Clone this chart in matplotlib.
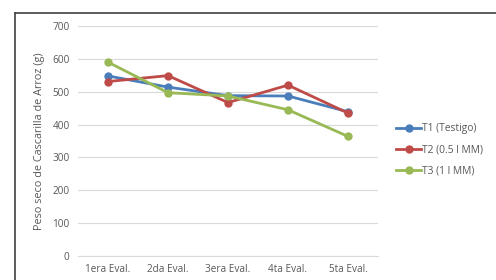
import matplotlib
matplotlib.use("Agg")
import matplotlib.pyplot as plt
from matplotlib.lines import Line2D

# Data
categories = ['1era Eval.', '2da Eval.', '3era Eval.', '4ta Eval.', '5ta Eval.']
t1 = [548, 514, 488, 487, 439]
t2 = [531, 549, 467, 520, 435]
t3 = [590, 497, 487, 445, 364]
series_names = ['T1 (Testigo)', 'T2 (0.5 l MM)', 'T3 (1 l MM)']
colors = ['#4a7ebb', '#be4b48', '#98b954']

plt.rcParams['font.family'] = ['Open Sans', 'DejaVu Sans']

fig = plt.figure(figsize=(4.96, 2.8), dpi=100)
ax = fig.add_axes([78 / 496, 1 - 256 / 280, 300 / 496, 230 / 280])

x = list(range(len(categories)))
for vals, name, c in zip([t1, t2, t3], series_names, colors):
    ax.plot(x, vals, color=c, lw=2, marker='o', ms=5, label=name)

ax.set_xlim(-0.5, len(categories) - 0.5)
ax.set_ylim(0, 700)
ax.set_yticks(range(0, 701, 100))
ax.set_xticks(x)
ax.set_xticklabels(categories)
ax.grid(axis='y', color='#d9d9d9', lw=0.8)
ax.set_axisbelow(True)
for s in ['top', 'right', 'left']:
    ax.spines[s].set_visible(False)
ax.spines['bottom'].set_color('#d9d9d9')
ax.tick_params(length=0, labelsize=7.2, colors='#595959', pad=6)
ax.set_ylabel('Peso seco de Cascarilla de Arroz (g)', fontsize=7.8, color='#595959', labelpad=5)

ax.legend(loc='center left', bbox_to_anchor=(1.03, 0.46), frameon=False,
          fontsize=7.4, labelcolor='#595959', handlelength=2.4, handletextpad=0.15,
          labelspacing=1.0)

# outer chart border
fig.add_artist(Line2D([15 / 496, 1], [1 - 13 / 280, 1 - 13 / 280], color='#404040', lw=1.2))
fig.add_artist(Line2D([15 / 496, 15 / 496], [0, 1 - 13 / 280], color='#404040', lw=1.2))

fig.savefig('out.png', dpi=100)
